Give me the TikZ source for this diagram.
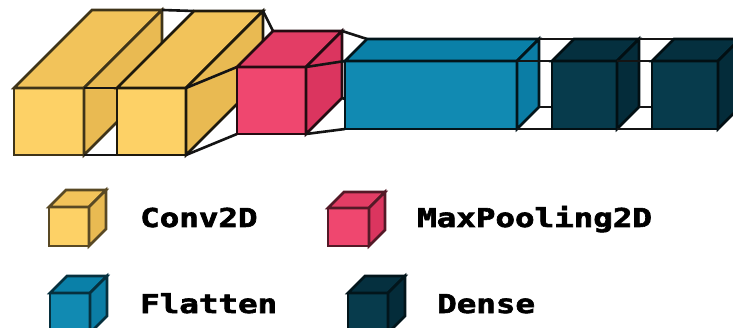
\documentclass[tikz,border=0pt]{standalone}
\usepackage{fontspec}
\usetikzlibrary{calc}
\newfontfamily\pixfont{DejaVu Sans Mono}[FakeBold=2.2]
\definecolor{convF}{HTML}{FDD166}
\definecolor{convT}{HTML}{F2C35A}
\definecolor{convS}{HTML}{E9BA52}
\definecolor{poolF}{HTML}{EF476F}
\definecolor{poolT}{HTML}{E33D65}
\definecolor{poolS}{HTML}{DB355F}
\definecolor{flatF}{HTML}{118AB2}
\definecolor{flatT}{HTML}{0A80A8}
\definecolor{flatS}{HTML}{0B7DA5}
\definecolor{denseF}{HTML}{073B4C}
\definecolor{denseT}{HTML}{05303F}
\definecolor{denseS}{HTML}{042C3A}
\newcommand\vkdef[6]{%
  \coordinate (#1-ftl) at (#2,#3);
  \coordinate (#1-ftr) at (#4,#3);
  \coordinate (#1-fbl) at (#2,#5);
  \coordinate (#1-fbr) at (#4,#5);
  \coordinate (#1-btl) at ($(#1-ftl)+(#6,-#6)$);
  \coordinate (#1-btr) at ($(#1-ftr)+(#6,-#6)$);
  \coordinate (#1-bbl) at ($(#1-fbl)+(#6,-#6)$);
  \coordinate (#1-bbr) at ($(#1-fbr)+(#6,-#6)$);
}
\newcommand\vkdraw[5]{%
  \filldraw[boxedge, draw=#5, fill=#2] (#1-ftl) rectangle (#1-fbr);
  \filldraw[boxedge, draw=#5, fill=#3] (#1-ftl) -- (#1-btl) -- (#1-btr) -- (#1-ftr) -- cycle;
  \filldraw[boxedge, draw=#5, fill=#4] (#1-ftr) -- (#1-btr) -- (#1-bbr) -- (#1-fbr) -- cycle;
}
\newcommand\vkfunnel[2]{%
  \draw[funnelline] (#1-btr) -- (#2-btl);
  \draw[funnelline] (#1-bbr) -- (#2-bbl);
  \draw[funnelline] (#1-fbr) -- (#2-fbl);
  \draw[funnelline] (#1-ftr) -- (#2-ftl);
}
\tikzset{
  boxedge/.style={line width=2.6pt, line join=miter},
  funnelline/.style={line width=2.6pt, draw=black!92},
  legendtext/.style={anchor=base west, inner sep=0pt, font=\pixfont\bfseries\fontsize{26}{26}\selectfont}
}
\begin{document}
\begin{tikzpicture}[x=1pt,y=-1pt]
\path[use as bounding box] (0,0) rectangle (733,328);
\clip (0,0) rectangle (733,328);
% layer boxes
\vkdef{c1}{14}{88}{84}{155}{78}
\vkdef{c2}{117}{88}{186}{155}{77}
\vkdef{mp}{237}{67}{306}{134}{36}
\vkdef{fl}{345}{61}{517}{129}{22}
\vkdef{d1}{552}{61}{617}{129}{22}
\vkdef{d2}{652}{61}{718}{129}{22}
\vkdraw{c1}{convF}{convT}{convS}{convF!25!black}
\vkfunnel{c1}{c2}
\vkdraw{c2}{convF}{convT}{convS}{convF!12!black}
\vkfunnel{c2}{mp}
\vkdraw{mp}{poolF}{poolT}{poolS}{poolF!15!black}
\vkfunnel{mp}{fl}
\vkdraw{fl}{flatF}{flatT}{flatS}{flatF!15!black}
\vkfunnel{fl}{d1}
\vkdraw{d1}{denseF}{denseT}{denseS}{denseF!25!black}
\vkfunnel{d1}{d2}
\vkdraw{d2}{denseF}{denseT}{denseS}{denseF!25!black}
% legend icons
\vkdef{lc}{49}{207}{89}{246}{17}
\vkdef{lm}{328}{208}{369}{246}{16}
\vkdef{lf}{50}{293}{90}{333}{17}
\vkdef{ld}{348}{293}{388}{333}{17}
\vkdraw{lc}{convF}{convT}{convS}{convF!35!black}
\vkdraw{lm}{poolF}{poolT}{poolS}{poolF!35!black}
\vkdraw{lf}{flatF}{flatT}{flatS}{flatF!35!black}
\vkdraw{ld}{denseF}{denseT}{denseS}{denseF!35!black}
% legend labels
\node[legendtext] (tc) at (140,227) {\scalebox{1.25}[1]{Conv2D}};
\node[legendtext] (tm) at (417,227) {\scalebox{1.25}[1]{MaxPooling2D}};
\node[legendtext] (tf) at (140,313) {\scalebox{1.25}[1]{Flatten}};
\node[legendtext] (td) at (437,313) {\scalebox{1.25}[1]{Dense}};
\end{tikzpicture}
\end{document}
